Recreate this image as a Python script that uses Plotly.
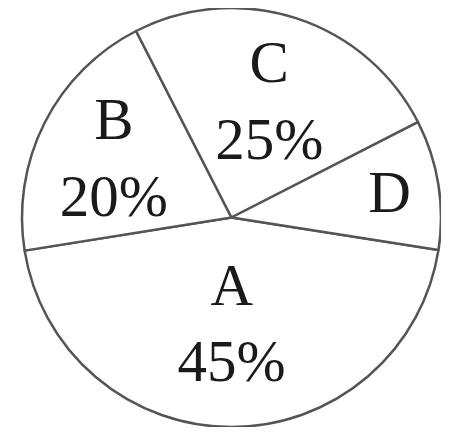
import plotly.graph_objects as go

# slice data
categories = ["A", "B", "C", "D"]
shares = [45, 20, 25, 10]
slice_text = ["A<br>45%", "B<br>20%", "C<br>25%", "D"]

trace = go.Pie(
    labels=categories,
    values=shares,
    text=slice_text,
    textinfo="text",
    textposition="inside",
    insidetextorientation="horizontal",
    sort=False,
    direction="clockwise",
    rotation=98.9,
    marker=dict(colors=["white"] * 4, line=dict(color="#555555", width=2.5)),
    textfont=dict(family="Liberation Serif, Times New Roman, serif", size=59, color="#1a1a1a"),
    hoverinfo="skip",
)

# page body has an 8px margin on every side, so the figure has to fit in 433x419
layout = go.Layout(
    width=433,
    height=419,
    margin=dict(l=14, r=0, t=0, b=0),
    paper_bgcolor="white",
    showlegend=False,
    uniformtext=dict(minsize=59, mode="show"),
)

fig = go.Figure(data=[trace], layout=layout)
fig.write_html("out.html")
